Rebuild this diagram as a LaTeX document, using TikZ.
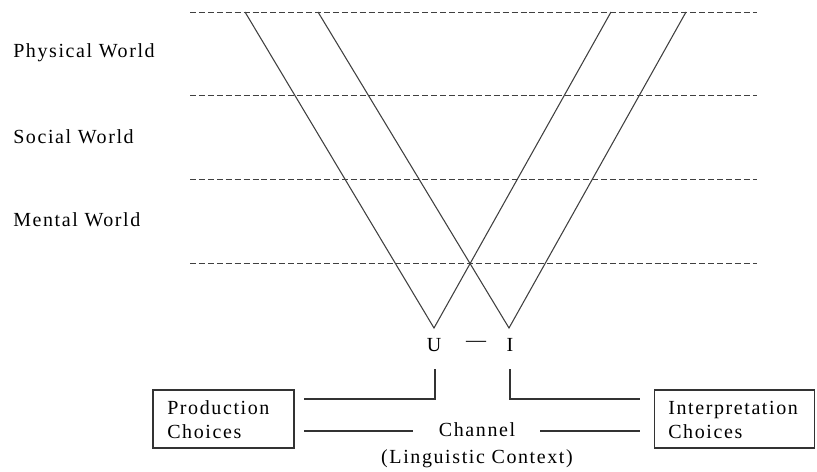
\documentclass[tikz,border=0pt]{standalone}
\usepackage{fontspec}
\setmainfont{Liberation Serif}[LetterSpace=8]
\begin{document}
\begin{tikzpicture}[x=0.75pt,y=-0.75pt,
  lbl/.style={font=\fontsize{15}{17}\selectfont, inner sep=0pt},
  guide/.style={draw=black!75, dashed, dash pattern=on 4.5pt off 2.2pt, line width=0.7pt},
  vline/.style={draw=black!75, line width=0.8pt},
  conn/.style={draw=black!80, line width=0.9pt},
  box/.style={draw=black!80, line width=0.9pt, inner sep=0pt, minimum height=43.5pt}]
\useasboundingbox (0,0) rectangle (817,471);
% dashed guides
\foreach \y/\n in {12/a,95/b,179/c,263/d}{
  \coordinate (gl\n) at (190,\y);
  \coordinate (gr\n) at (757,\y);
  \draw[guide] (gl\n) -- (gr\n);
}
% V shapes
\coordinate (t1) at (245,12);
\coordinate (t2) at (611,12);
\coordinate (t3) at (318,12);
\coordinate (t4) at (686,12);
\coordinate (vu) at (434,328);
\coordinate (vi) at (509,328);
\draw[vline] (t1) -- (vu) -- (t2);
\draw[vline] (t3) -- (vi) -- (t4);
% world labels
\node[lbl, anchor=west] (pw) at (13,53) {Physical World};
\node[lbl, anchor=west] (sw) at (13,137) {Social World};
\node[lbl, anchor=west] (mw) at (13,220) {Mental World};
% U - I
\node[lbl] (U) at (434,345) {U};
\node[lbl] (dash) at (476,344) {---};
\node[lbl] (I) at (510,345) {I};
% boxes
\node[box, minimum width=105.75pt] (pc) at (223.5,419) {};
\node[lbl, anchor=west, align=left] (pct) at (167,420) {Production\\[1pt]Choices};
\node[box, minimum width=120pt] (ic) at (734.5,419) {};
\node[lbl, anchor=west, align=left] (ict) at (668,420) {Interpretation\\[1pt]Choices};
% channel
\node[lbl, align=center] (ch) at (477,445) {Channel\\[3pt](Linguistic Context)};
% connectors
\coordinate (uc) at (435,369);
\coordinate (ic0) at (510,369);
\draw[conn] (uc) -- (435,399) -- (304,399);
\draw[conn] (ic0) -- (510,399) -- (640,399);
\draw[conn] (304,431) -- (413,431);
\draw[conn] (540,431) -- (640,431);
\end{tikzpicture}
\end{document}
